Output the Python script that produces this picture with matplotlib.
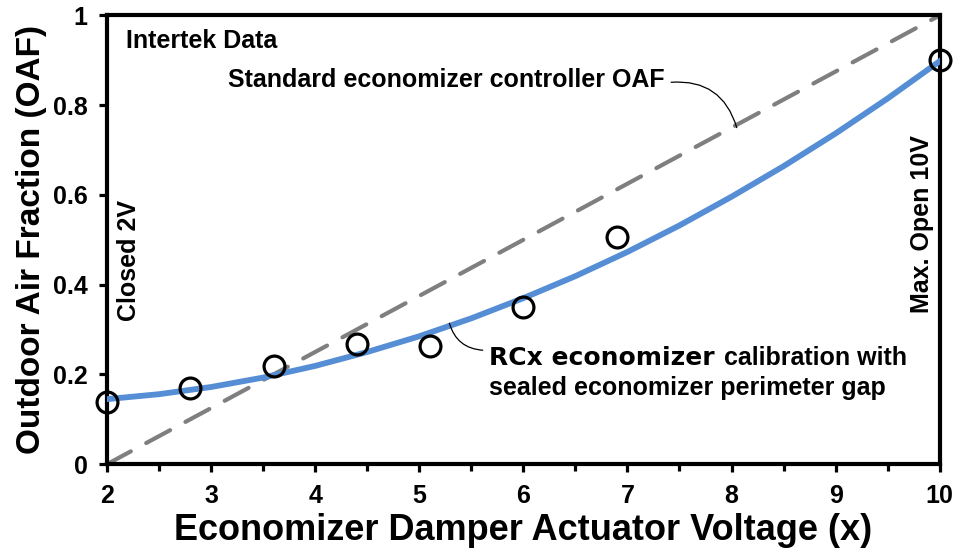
import matplotlib
matplotlib.use("Agg")
import matplotlib.pyplot as plt
from matplotlib.ticker import MultipleLocator

plt.rcParams["font.family"] = ["Liberation Sans", "DejaVu Sans"]
plt.rcParams["font.weight"] = "bold"

# measured points (Intertek)
volts = [2.0, 2.8, 3.6, 4.4, 5.1, 6.0, 6.9, 10.0]
oaf = [0.138, 0.170, 0.218, 0.267, 0.263, 0.350, 0.506, 0.900]

# RCx calibration curve
fit_x = [2.0, 2.5, 3.0, 3.5, 4.0, 4.5, 5.0, 5.5, 6.0, 6.5, 7.0, 7.5, 8.0, 8.5, 9.0, 9.5, 10.0]
fit_y = [0.145, 0.156, 0.172, 0.193, 0.219, 0.250, 0.285, 0.325, 0.370, 0.419, 0.473, 0.532, 0.596, 0.664, 0.737, 0.815, 0.898]

# standard controller: linear 2V -> 0, 10V -> 1
std_x = [2, 10]
std_y = [0, 1]

fig = plt.figure(figsize=(9.55, 5.5), dpi=100)
ax = fig.add_axes([0.112, 0.156, 0.872, 0.816])

ax.plot(std_x, std_y, color="#7f7f7f", lw=3, dashes=(6.5, 4.2),
        dash_capstyle="round", zorder=2)
ax.plot(fit_x, fit_y, color="#558ed5", lw=4.2, zorder=3)
ax.plot(volts, oaf, "o", ms=15, mfc="none", mec="black", mew=2.3,
        zorder=4, clip_on=False)

ax.set_xlim(2, 10)
ax.set_ylim(0, 1)
ax.xaxis.set_major_locator(MultipleLocator(1))
ax.xaxis.set_minor_locator(MultipleLocator(0.5))
ax.set_yticks([0, 0.2, 0.4, 0.6, 0.8, 1.0])
ax.set_yticklabels(["0", "0.2", "0.4", "0.6", "0.8", "1"])
ax.tick_params(axis="both", which="both", direction="out", width=2.3,
               labelsize=18, pad=8)
ax.tick_params(axis="both", which="major", length=6)
ax.tick_params(axis="x", which="minor", length=5)

for s in ax.spines.values():
    s.set_linewidth(3)

ax.set_xlabel("Economizer Damper Actuator Voltage (x)", fontsize=26,
              fontweight="bold", labelpad=4)
ax.set_ylabel("Outdoor Air Fraction (OAF)", fontsize=24, fontweight="bold",
              labelpad=4)

ax.text(2.18, 0.944, "Intertek Data", fontsize=18, fontweight="bold",
        va="center", ha="left")
ax.text(2.21, 0.454, "Closed 2V", fontsize=18, fontweight="bold",
        rotation=90, va="center", ha="center")
ax.text(9.83, 0.535, "Max. Open 10V", fontsize=18, fontweight="bold",
        rotation=90, va="center", ha="center")

ax.text(7.36, 0.855, "Standard economizer controller OAF", fontsize=18,
        fontweight="bold", ha="right", va="center")
ax.annotate("", xy=(8.05, 0.75), xytext=(7.42, 0.851),
            arrowprops=dict(arrowstyle="-", color="black", lw=0.9,
                            shrinkA=0, shrinkB=0,
                            connectionstyle="arc3,rad=-0.4"))

ax.annotate("", xy=(5.29, 0.314), xytext=(5.61, 0.254),
            arrowprops=dict(arrowstyle="-", color="black", lw=0.9,
                            shrinkA=0, shrinkB=0,
                            connectionstyle="arc3,rad=-0.35"))
ax.text(5.67, 0.236, "RCx economizer", fontsize=18, fontweight="heavy",
        family=["DejaVu Sans"], va="center", ha="left")
ax.text(7.93, 0.236, "calibration with", fontsize=18, fontweight="bold",
        va="center", ha="left")
ax.text(5.67, 0.169, "sealed economizer perimeter gap", fontsize=18,
        fontweight="bold", va="center", ha="left")

fig.savefig("out.png", dpi=100)
